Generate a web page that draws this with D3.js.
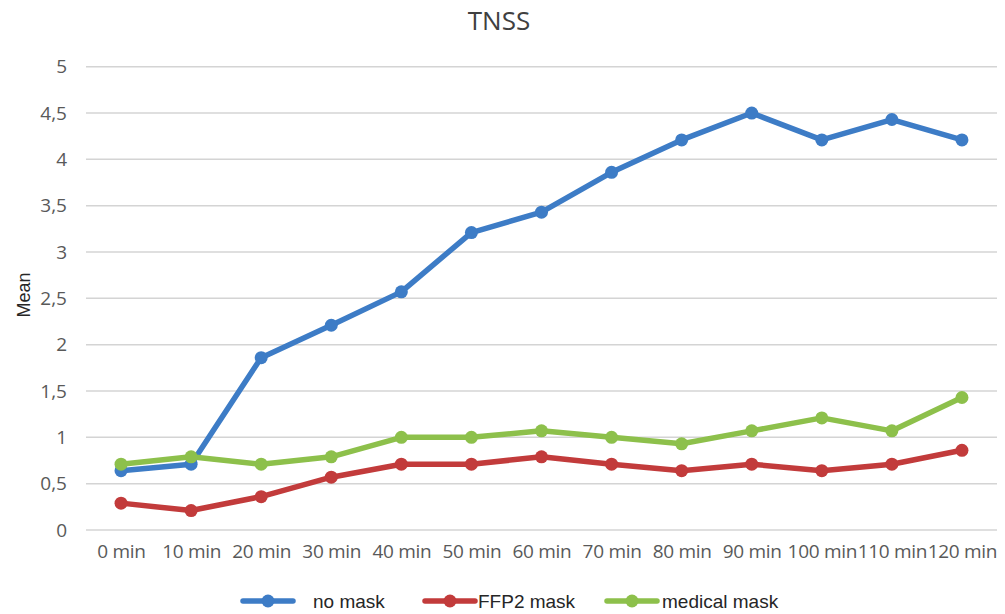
<!DOCTYPE html>
<html>
<head>
<meta charset="utf-8">
<script src="https://cdn.jsdelivr.net/npm/d3@7"></script>
<style>
  html, body { margin: 0; padding: 0; background: #fff; }
  svg { display: block; }
</style>
</head>
<body>
<div id="chart"></div>
<script>
// ==== Dữ liệu ====
const categories = ["0 min", "10 min", "20 min", "30 min", "40 min", "50 min", "60 min",
                    "70 min", "80 min", "90 min", "100 min", "110 min", "120 min"];
const noMask      = [0.64, 0.71, 1.86, 2.21, 2.57, 3.21, 3.43, 3.86, 4.21, 4.50, 4.21, 4.43, 4.21];
const ffp2Mask    = [0.29, 0.21, 0.36, 0.57, 0.71, 0.71, 0.79, 0.71, 0.64, 0.71, 0.64, 0.71, 0.86];
const medicalMask = [0.71, 0.79, 0.71, 0.79, 1.00, 1.00, 1.07, 1.00, 0.93, 1.07, 1.21, 1.07, 1.43];
const yTicks = [0, 0.5, 1, 1.5, 2, 2.5, 3, 3.5, 4, 4.5, 5];
const seriesNames = ["no mask", "FFP2 mask", "medical mask"];
const seriesColors = ["#3d7cc6", "#c23b3b", "#8dc04b"];

const series = [noMask, ffp2Mask, medicalMask].map((vals, i) => ({
  name: seriesNames[i],
  color: seriesColors[i],
  values: vals.map((v, j) => ({ cat: categories[j], v }))
}));

const W = 1005, H = 614;
const svg = d3.select("#chart").append("svg")
  .attr("width", W).attr("height", H);

// ==== Scales ====
const x = d3.scalePoint()
  .domain(categories)
  .range([86, 997])
  .padding(0.5);

const y = d3.scaleLinear()
  .domain([0, 5])
  .range([530, 66.7]);

const fmtComma = v => String(v).replace(".", ",");

// Gridlines
svg.append("g")
  .selectAll("line")
  .data(yTicks)
  .join("line")
    .attr("x1", 86).attr("x2", 997)
    .attr("y1", d => y(d)).attr("y2", d => y(d))
    .attr("stroke", "#d4d4d4")
    .attr("stroke-width", 1.5);

// Trục Y (chỉ nhãn)
const yAxis = svg.append("g")
  .attr("transform", "translate(86,0)")
  .call(d3.axisLeft(y).tickValues(yTicks).tickFormat(fmtComma).tickSize(0).tickPadding(19));
yAxis.select(".domain").remove();
yAxis.selectAll("text")
  .style("font-family", "'Open Sans', sans-serif")
  .style("font-size", "19px")
  .attr("fill", "#595959");

// Trục X (chỉ nhãn)
const xAxis = svg.append("g")
  .attr("transform", "translate(0,530)")
  .call(d3.axisBottom(x).tickSize(0).tickPadding(15));
xAxis.select(".domain").remove();
xAxis.selectAll("text")
  .style("font-family", "'Open Sans', sans-serif")
  .style("font-size", "19px")
  .style("letter-spacing", "-0.3px")
  .attr("fill", "#595959");

// Tiêu đề
svg.append("text")
  .attr("x", 499).attr("y", 30)
  .attr("text-anchor", "middle")
  .style("font-family", "'Open Sans', sans-serif")
  .style("font-size", "26px")
  .attr("fill", "#404040")
  .text("TNSS");

// Nhãn trục Y
svg.append("text")
  .attr("transform", "translate(30,295) rotate(-90)")
  .attr("text-anchor", "middle")
  .style("font-family", "'Liberation Sans', Arial, sans-serif")
  .style("font-size", "18px")
  .attr("fill", "#262626")
  .text("Mean");

// ==== Lines ====
const line = d3.line()
  .x(d => x(d.cat))
  .y(d => y(d.v));

const g = svg.append("g");
series.forEach(s => {
  g.append("path")
    .datum(s.values)
    .attr("fill", "none")
    .attr("stroke", s.color)
    .attr("stroke-width", 5.5)
    .attr("stroke-linejoin", "round")
    .attr("stroke-linecap", "round")
    .attr("d", line);
  g.selectAll(null)
    .data(s.values)
    .join("circle")
      .attr("cx", d => x(d.cat))
      .attr("cy", d => y(d.v))
      .attr("r", 6.5)
      .attr("fill", s.color);
});

// ==== Legend ====
const legendX = [243, 425, 607];
const legendTextX = [313, 478, 662];
const legend = svg.append("g");
series.forEach((s, i) => {
  const lx = legendX[i], ly = 601;
  legend.append("line")
    .attr("x1", lx).attr("x2", lx + 50)
    .attr("y1", ly).attr("y2", ly)
    .attr("stroke", s.color)
    .attr("stroke-width", 5.5)
    .attr("stroke-linecap", "round");
  legend.append("circle")
    .attr("cx", lx + 25).attr("cy", ly).attr("r", 6.5)
    .attr("fill", s.color);
  legend.append("text")
    .attr("x", legendTextX[i]).attr("y", ly + 7)
    .style("font-family", "'Liberation Sans', Arial, sans-serif")
    .style("font-size", "19px")
    .attr("fill", "#262626")
    .text(s.name);
});
</script>
</body>
</html>
